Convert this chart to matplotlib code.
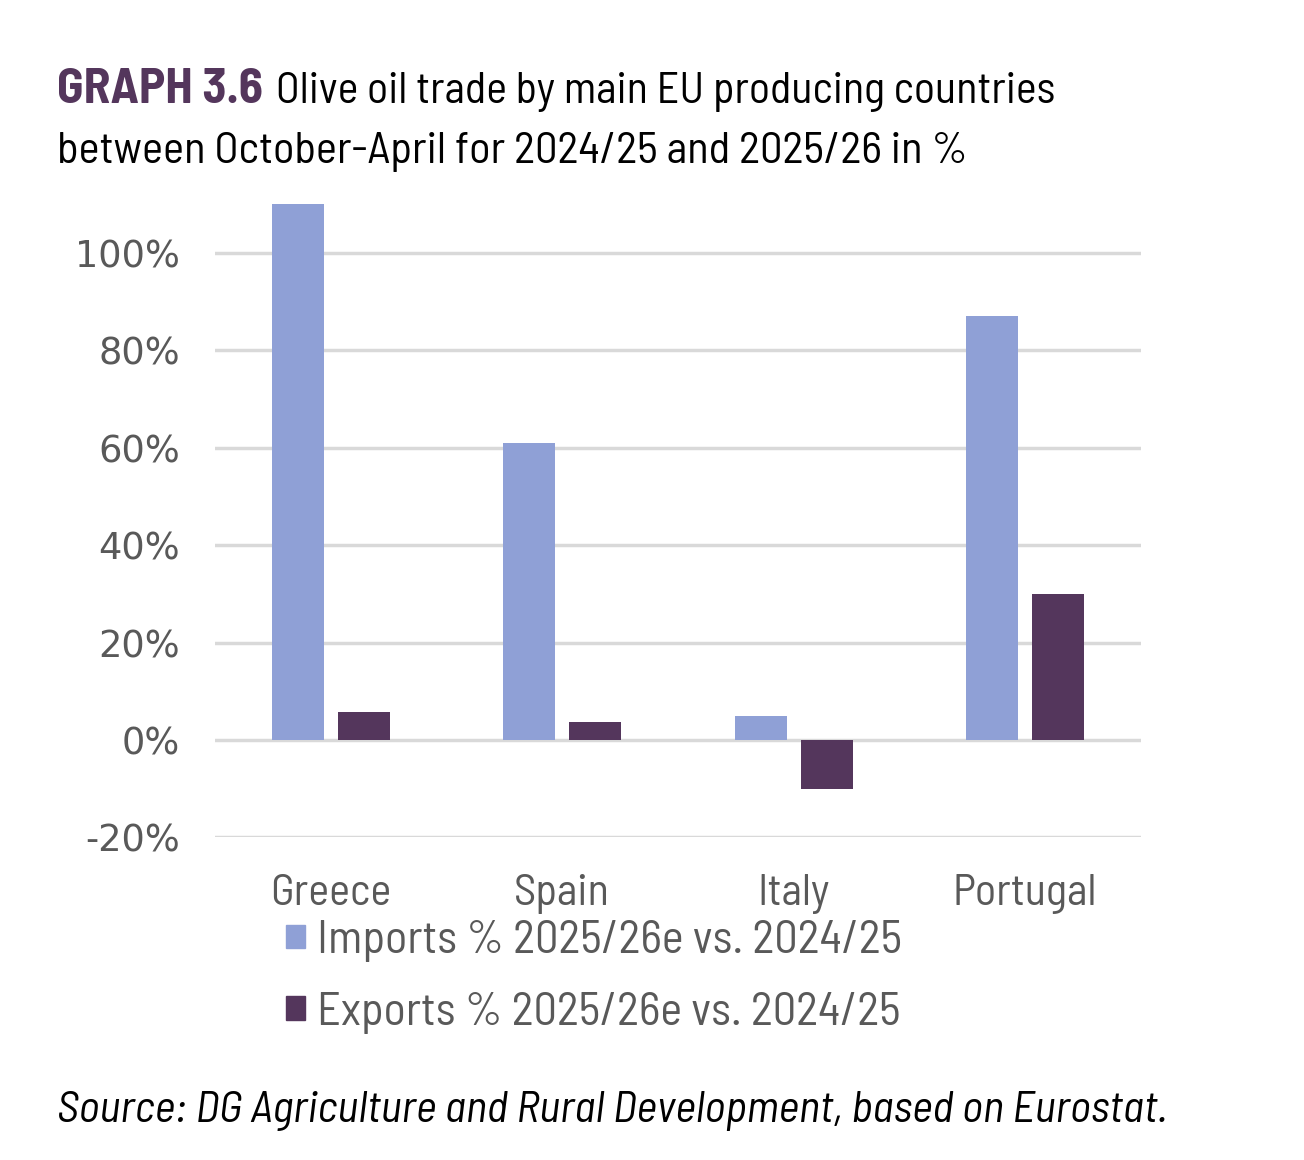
import numpy as np
import matplotlib
matplotlib.use('Agg')
import matplotlib.pyplot as plt
from matplotlib.patches import Patch

# data
countries = ['Greece', 'Spain', 'Italy', 'Portugal']
imports_pct = [110, 61, 5, 87]
exports_pct = [5.7, 3.7, -10, 30]
yticks = [-20, 0, 20, 40, 60, 80, 100]
imports_label = 'Imports % 2025/26e vs. 2024/25'
exports_label = 'Exports % 2025/26e vs. 2024/25'
title_tag = 'GRAPH 3.6'
title_1 = 'Olive oil trade by main EU producing countries'
title_2 = 'between October-April for 2024/25 and 2025/26 in %'
source = 'Source: DG Agriculture and Rural Development, based on Eurostat.'

c_imp = '#8FA0D6'
c_exp = '#54365C'
c_txt = '#595959'
c_grid = '#D9D9D9'
narrow = ['Barlow Semi Condensed', 'Asap Condensed', 'DejaVu Sans']
wide = ['DejaVu Sans']

W, H = 1304, 1160
fig = plt.figure(figsize=(W / 100, H / 100), dpi=100)
renderer = fig.canvas.get_renderer()


def size_for(s, target_px, **kw):
    # font size that makes the string about target_px wide
    t = fig.text(0, 0, s, fontsize=20, **kw)
    w = t.get_window_extent(renderer=renderer).width
    t.remove()
    return 20 * target_px / w


ax = fig.add_axes([215 / W, 1 - 837.4 / H, 926 / W, 642.8 / H])

x = np.arange(len(countries))
off = 0.1425
w = 0.225
ax.bar(x - off, imports_pct, w, color=c_imp, zorder=3)
ax.bar(x + off, exports_pct, w, color=c_exp, zorder=3)

ax.set_xlim(-0.5, 3.5)
ax.set_ylim(-20, 112)
ax.set_yticks(yticks)
ysz = size_for('100%', 105, family=wide)
ax.set_yticklabels([f'{v}%' for v in yticks], fontsize=ysz, color=c_txt, family=wide)
ax.set_xticks(x)
xsz = size_for('Portugal', 145, family=narrow)
ax.set_xticklabels(countries, fontsize=xsz, color=c_txt, family=narrow)
ax.tick_params(length=0)
ax.tick_params(axis='y', pad=25)
ax.tick_params(axis='x', pad=26)
ax.grid(axis='y', color=c_grid, lw=2.5, zorder=0)
for s in ax.spines.values():
    s.set_visible(False)

lsz = size_for(imports_label, 586, family=narrow)
lpx = lsz * 100 / 72
handles = [Patch(color=c_imp), Patch(color=c_exp)]
fig.legend(handles, [imports_label, exports_label], loc='upper left',
           bbox_to_anchor=(286 / W, 1 - 920 / H), frameon=False,
           prop={'family': narrow, 'size': lsz}, labelcolor=c_txt,
           handlelength=19 / lpx, handleheight=19 / lpx, handletextpad=12 / lpx,
           labelspacing=0.64, borderpad=0, borderaxespad=0)

gsz = size_for(title_tag, 205, family=narrow, fontweight='bold')
fig.text(57 / W, 1 - 103 / H, title_tag, fontsize=gsz, fontweight='bold',
         color=c_exp, family=narrow, va='baseline')
tsz = size_for(title_1, 779, family=narrow)
fig.text(276 / W, 1 - 103 / H, title_1,
         fontsize=tsz, color='black', family=narrow, va='baseline')
t2sz = size_for(title_2, 913, family=narrow)
fig.text(57 / W, 1 - 163 / H, title_2,
         fontsize=t2sz, color='black', family=narrow, va='baseline')
ssz = size_for(source, 1111, family=narrow, style='italic')
fig.text(57 / W, 1 - 1122 / H, source,
         fontsize=ssz, color='black', family=narrow, style='italic', va='baseline')

fig.savefig('out.png', dpi=100)
